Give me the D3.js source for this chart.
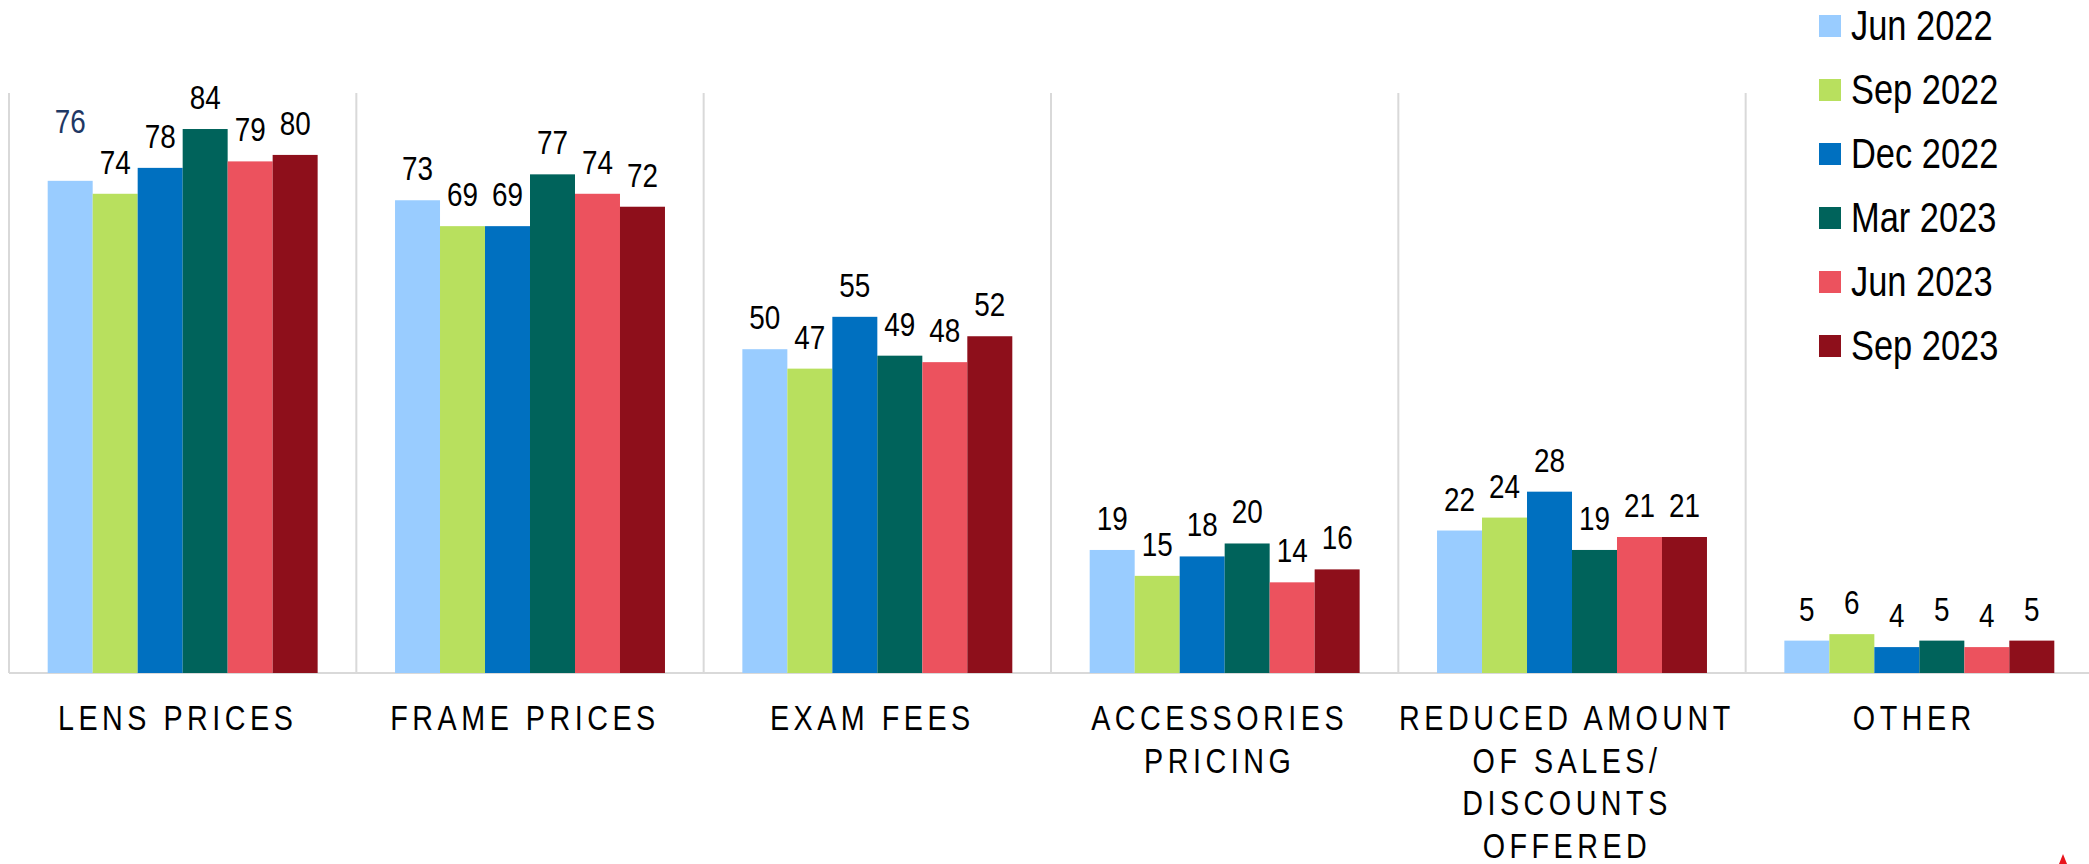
<!DOCTYPE html>
<html>
<head>
<meta charset="utf-8">
<script src="https://cdn.jsdelivr.net/npm/d3@7/dist/d3.min.js"></script>
<style>
  html, body { margin: 0; padding: 0; background: #fff; }
  #d3Container { width: 2089px; height: 864px; position: relative; overflow: hidden; }
  text { font-family: "Liberation Sans", Arial, sans-serif; }
</style>
</head>
<body>
<div id="d3Container"></div>
<script>
  // chart data
  const categories = ['LENS PRICES', 'FRAME PRICES', 'EXAM FEES', 'ACCESSORIES PRICING', 'REDUCED AMOUNT OF SALES/ DISCOUNTS OFFERED', 'OTHER']
  const categoryLines = [
    ['LENS PRICES'],
    ['FRAME PRICES'],
    ['EXAM FEES'],
    ['ACCESSORIES', 'PRICING'],
    ['REDUCED AMOUNT', 'OF SALES/', 'DISCOUNTS', 'OFFERED'],
    ['OTHER']
  ]
  const seriesNames = ['Jun 2022', 'Sep 2022', 'Dec 2022', 'Mar 2023', 'Jun 2023', 'Sep 2023']
  const jun2022 = [76, 73, 50, 19, 22, 5]
  const sep2022 = [74, 69, 47, 15, 24, 6]
  const dec2022 = [78, 69, 55, 18, 28, 4]
  const mar2023 = [84, 77, 49, 20, 19, 5]
  const jun2023 = [79, 74, 48, 14, 21, 4]
  const sep2023 = [80, 72, 52, 16, 21, 5]
  const seriesValues = [jun2022, sep2022, dec2022, mar2023, jun2023, sep2023]
  const colors = ['#99CCFF', '#B8E05E', '#0070C0', '#00635B', '#EC525E', '#8E0F1B']

  const width = 2089
  const height = 864
  const plot = {left: 9, right: 2093, top: 93, baseline: 673}
  const NARROW = 0.82          // fake a narrow face by squeezing Liberation Sans
  const VALUE_FONT = 34
  const CAT_FONT = 35
  const LEGEND_FONT = 42
  const LABEL_GAP = 20

  const x0 = d3.scaleBand().domain(categories).range([plot.left, plot.right])
  const x1 = d3.scaleBand().domain(seriesNames).range([0, x0.bandwidth()]).paddingOuter(0.86)
  const y = d3.scaleLinear().domain([0, 100]).range([plot.baseline, plot.baseline - 647.6])
  const color = d3.scaleOrdinal().domain(seriesNames).range(colors)

  const svg = d3.select('#d3Container')
    .append('svg')
    .attr('width', width)
    .attr('height', height)

  // group separators
  svg.selectAll('line.sep')
    .data(categories)
    .enter()
    .append('line')
    .classed('sep', true)
    .attr('x1', d => x0(d)).attr('x2', d => x0(d))
    .attr('y1', plot.top).attr('y2', plot.baseline)
    .attr('stroke', '#d9d9d9').attr('stroke-width', 2)

  // baseline
  svg.append('line')
    .attr('x1', plot.left).attr('x2', width)
    .attr('y1', plot.baseline).attr('y2', plot.baseline)
    .attr('stroke', '#d9d9d9').attr('stroke-width', 2)

  const rows = categories.map((c, i) => ({
    cat: c,
    values: seriesNames.map((s, j) => ({series: s, value: seriesValues[j][i], ci: i, si: j}))
  }))

  svg.selectAll('g.group')
    .data(rows)
    .enter()
    .append('g')
    .classed('group', true)
    .attr('transform', d => `translate(${x0(d.cat)}, 0)`)
    .call(sel => {
      sel.selectAll('rect')
        .data(d => d.values)
        .enter()
        .append('rect')
        .attr('x', d => x1(d.series))
        .attr('y', d => y(d.value))
        .attr('width', x1.bandwidth())
        .attr('height', d => plot.baseline - y(d.value))
        .attr('fill', d => color(d.series))

      // the first label sits higher in the original (moved by hand there)
      sel.selectAll('g.val')
        .data(d => d.values)
        .enter()
        .append('g')
        .classed('val', true)
        .attr('transform', d => {
          const lift = (d.ci === 0 && d.si === 0) ? LABEL_GAP + 28 : LABEL_GAP
          return `translate(${x1(d.series) + x1.bandwidth() / 2}, ${y(d.value) - lift}) scale(${NARROW}, 1)`
        })
        .append('text')
        .attr('text-anchor', 'middle')
        .attr('font-size', VALUE_FONT)
        .attr('fill', d => (d.ci === 0 && d.si === 0) ? '#1F3864' : '#000')
        .text(d => d.value)
    })

  // category labels
  svg.selectAll('g.cat')
    .data(categories)
    .enter()
    .append('g')
    .classed('cat', true)
    .attr('transform', d => `translate(${x0(d) + x0.bandwidth() / 2 - 5}, 0) scale(${NARROW}, 1)`)
    .append('text')
    .attr('text-anchor', 'middle')
    .attr('font-size', CAT_FONT)
    .attr('letter-spacing', 5.5)
    .attr('fill', '#000')
    .each(function (d, i) {
      d3.select(this).selectAll('tspan')
        .data(categoryLines[i])
        .enter()
        .append('tspan')
        .attr('x', 0)
        .attr('y', (t, k) => 730 + k * 42.7)
        .text(t => t)
    })

  // legend
  const legend = svg.selectAll('g.legend')
    .data(seriesNames)
    .enter()
    .append('g')
    .classed('legend', true)
    .attr('transform', (d, i) => `translate(1819, ${15 + i * 64})`)

  legend.append('rect')
    .attr('width', 22).attr('height', 22)
    .attr('fill', d => color(d))

  legend.append('g')
    .attr('transform', `translate(32, 25) scale(${NARROW}, 1)`)
    .append('text')
    .attr('font-size', LEGEND_FONT)
    .attr('fill', '#000')
    .text(d => d)

  // red mark cut off at the corner
  svg.append('path')
    .attr('d', 'M2063,854 L2067,864 L2059,864 Z')
    .attr('fill', '#e8141c')
</script>
</body>
</html>
